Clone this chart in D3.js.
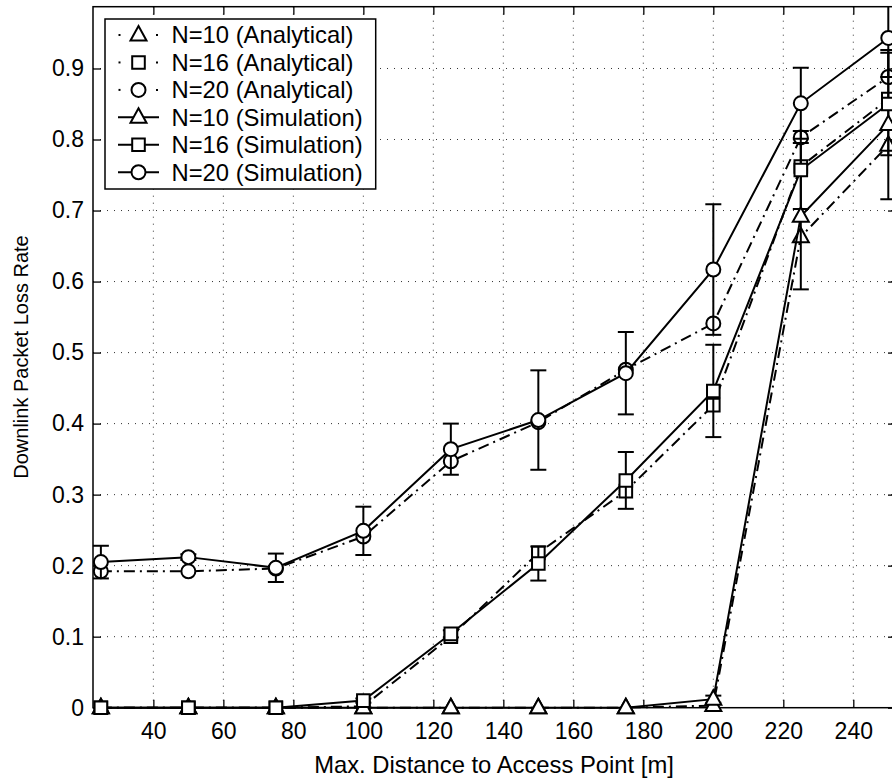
<!DOCTYPE html>
<html>
<head>
<meta charset="utf-8">
<script src="https://cdn.jsdelivr.net/npm/d3@7"></script>
<style>
html,body{margin:0;padding:0;background:#fff;}
svg{display:block;}
text{font-family:"Liberation Sans",Arial,Helvetica,sans-serif;fill:#000;}
</style>
</head>
<body>
<svg id="chart" width="892" height="781"></svg>
<script>
// ---- data ----
const distances = [25, 50, 75, 100, 125, 150, 175, 200, 225, 250];
const n10Analytical = [0, 0, 0, 0, 0, 0, 0, 0.003, 0.663, 0.792];
const n16Analytical = [0, 0, 0, 0.002, 0.100, 0.218, 0.305, 0.426, 0.762, 0.857];
const n20Analytical = [0.192, 0.192, 0.196, 0.241, 0.347, 0.402, 0.476, 0.541, 0.803, 0.888];
const n10Simulation = [0, 0, 0, 0, 0, 0, 0, 0.012, 0.692, 0.821];
const n16Simulation = [0, 0, 0, 0.010, 0.104, 0.203, 0.320, 0.446, 0.757, 0.850];
const n20Simulation = [0.205, 0.212, 0.197, 0.249, 0.364, 0.405, 0.471, 0.617, 0.851, 0.943];
const n10Error = [0, 0, 0, 0, 0, 0, 0, 0.005, 0.103, 0.105];
const n16Error = [0, 0, 0, 0.003, 0.005, 0.024, 0.040, 0.065, 0.055, 0.072];
const n20Error = [0.023, 0.004, 0.020, 0.034, 0.036, 0.070, 0.058, 0.092, 0.050, 0.055];
const xTicks = [40, 60, 80, 100, 120, 140, 160, 180, 200, 220, 240];
const yTicks = [0, 0.1, 0.2, 0.3, 0.4, 0.5, 0.6, 0.7, 0.8, 0.9];
const legendLabels = ["N=10 (Analytical)", "N=16 (Analytical)", "N=20 (Analytical)",
                      "N=10 (Simulation)", "N=16 (Simulation)", "N=20 (Simulation)"];
const xLabel = "Max. Distance to Access Point [m]";
const yLabel = "Downlink Packet Loss Rate";

// ---- layout ----
const L = 93, R = 896, T = 6.7, B = 707.7;
const x = d3.scaleLinear().domain([22.75, 252.2]).range([L, R]);
const y = d3.scaleLinear().domain([0, 0.987]).range([B, T]);
const FS = 23;

const svg = d3.select("#chart");
svg.append("defs").append("clipPath").attr("id", "plotclip")
  .append("rect").attr("x", 0).attr("y", T).attr("width", 892).attr("height", 781 - T);

// grid
const grid = svg.append("g").attr("stroke", "#333").attr("stroke-width", 1)
  .attr("stroke-dasharray", "1,6");
grid.selectAll("line.v").data(xTicks).enter().append("line")
  .attr("x1", d => x(d)).attr("x2", d => x(d)).attr("y1", B).attr("y2", T);
grid.selectAll("line.h").data(yTicks.filter(d => d > 0)).enter().append("line")
  .attr("y1", d => y(d)).attr("y2", d => y(d)).attr("x1", L).attr("x2", R);

// axes
const fmtY = d => d === 0 ? "0" : d3.format(".1f")(d);
const gx = svg.append("g").attr("transform", `translate(0,${B})`)
  .call(d3.axisBottom(x).tickValues(xTicks).tickSize(-8).tickPadding(15));
const gy = svg.append("g").attr("transform", `translate(${L},0)`)
  .call(d3.axisLeft(y).tickValues(yTicks).tickFormat(fmtY).tickSize(-8).tickPadding(9));
const gt = svg.append("g").attr("transform", `translate(0,${T})`)
  .call(d3.axisTop(x).tickValues(xTicks).tickSize(-8).tickFormat(""));
const gr = svg.append("g").attr("transform", `translate(${R},0)`)
  .call(d3.axisRight(y).tickValues(yTicks).tickSize(-8).tickFormat(""));
[gx, gy, gt, gr].forEach(g => {
  g.select(".domain").remove();
  g.selectAll(".tick line").attr("stroke", "#000").attr("stroke-width", 1.3);
  g.selectAll("text").style("font-size", FS + "px").attr("fill", "#000")
    .style("font-family", '"Liberation Sans",Arial,sans-serif');
});
svg.append("rect").attr("x", L).attr("y", T).attr("width", R - L).attr("height", B - T)
  .attr("fill", "none").attr("stroke", "#000").attr("stroke-width", 1.5);

// axis labels
svg.append("text").attr("x", 494).attr("y", 773).attr("text-anchor", "middle")
  .style("font-size", "23.8px").text(xLabel);
svg.append("text").attr("transform", "translate(28,357) rotate(-90)").attr("text-anchor", "middle")
  .style("font-size", "20px").text(yLabel);

// markers
function markerPath(type) {
  if (type === "tri") return "M0,-9L8,5.5L-8,5.5Z";
  if (type === "sq") return "M-6.3,-6.3H6.3V6.3H-6.3Z";
  return d3.symbol().type(d3.symbolCircle).size(Math.PI * 49)();
}
const analytical = [
  {vals: n10Analytical, m: "tri"}, {vals: n16Analytical, m: "sq"}, {vals: n20Analytical, m: "circ"}];
const simulation = [
  {vals: n10Simulation, err: n10Error, m: "tri"},
  {vals: n16Simulation, err: n16Error, m: "sq"},
  {vals: n20Simulation, err: n20Error, m: "circ"}];

const plot = svg.append("g").attr("clip-path", "url(#plotclip)");
const lineGen = d3.line().x((d, i) => x(distances[i])).y(d => y(d));

function drawMarkers(g, s) {
  g.selectAll(null).data(s.vals).enter().append("path")
    .attr("d", markerPath(s.m))
    .attr("transform", (d, i) => `translate(${x(distances[i])},${y(d)})`)
    .attr("fill", "#fff").attr("stroke", "#000").attr("stroke-width", 2);
}

analytical.forEach(s => {
  plot.append("path").datum(s.vals).attr("d", lineGen).attr("fill", "none")
    .attr("stroke", "#000").attr("stroke-width", 2).attr("stroke-dasharray", "11,5,2,5");
});
analytical.forEach(s => drawMarkers(plot, s));

simulation.forEach(s => {
  const eg = plot.append("g").attr("stroke", "#000").attr("stroke-width", 2);
  s.vals.forEach((v, i) => {
    const e = s.err[i];
    if (e <= 0) return;
    const cx = x(distances[i]);
    eg.append("line").attr("x1", cx).attr("x2", cx).attr("y1", y(v - e)).attr("y2", y(v + e));
    eg.append("line").attr("x1", cx - 8).attr("x2", cx + 8).attr("y1", y(v - e)).attr("y2", y(v - e));
    eg.append("line").attr("x1", cx - 8).attr("x2", cx + 8).attr("y1", y(v + e)).attr("y2", y(v + e));
  });
});
simulation.forEach(s => {
  plot.append("path").datum(s.vals).attr("d", lineGen).attr("fill", "none")
    .attr("stroke", "#000").attr("stroke-width", 2);
});
simulation.forEach(s => drawMarkers(plot, s));

// legend
const lg = svg.append("g");
lg.append("rect").attr("x", 105).attr("y", 19).attr("width", 270.7).attr("height", 170)
  .attr("fill", "#fff").attr("stroke", "#000").attr("stroke-width", 1.5);
const legendItems = [...analytical.map(s => ({m: s.m, ana: true})), ...simulation.map(s => ({m: s.m, ana: false}))];
legendItems.forEach((it, i) => {
  const cy = 35 + i * 27.45;
  if (it.ana) {
    lg.append("line").attr("x1", 118.5).attr("x2", 120.5).attr("y1", cy).attr("y2", cy)
      .attr("stroke", "#000").attr("stroke-width", 2);
    lg.append("line").attr("x1", 156).attr("x2", 158).attr("y1", cy).attr("y2", cy)
      .attr("stroke", "#000").attr("stroke-width", 2);
  } else {
    lg.append("line").attr("x1", 118).attr("x2", 159).attr("y1", cy).attr("y2", cy)
      .attr("stroke", "#000").attr("stroke-width", 2);
  }
  lg.append("path").attr("d", markerPath(it.m)).attr("transform", `translate(138.5,${cy})`)
    .attr("fill", "#fff").attr("stroke", "#000").attr("stroke-width", 2);
  lg.append("text").attr("x", 171.5).attr("y", cy + 8.4).style("font-size", "23.8px")
    .text(legendLabels[i]);
});
</script>
</body>
</html>
